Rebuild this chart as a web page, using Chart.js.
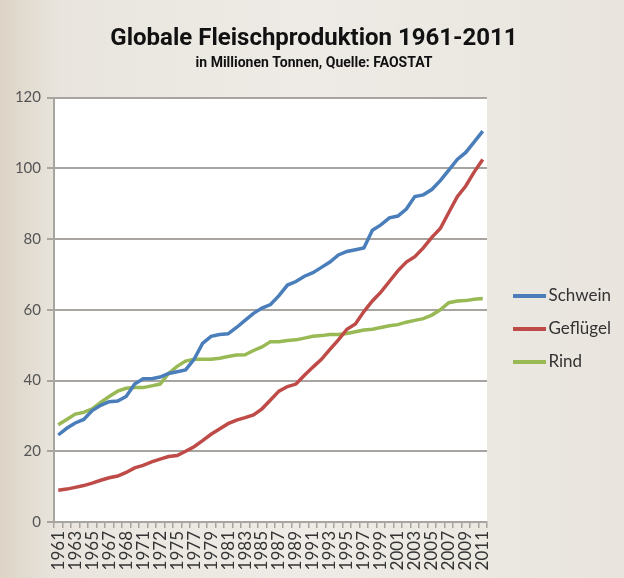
<!DOCTYPE html>
<html>
<head>
<meta charset="utf-8">
<script src="https://cdn.jsdelivr.net/npm/chart.js@4/dist/chart.umd.min.js"></script>
<style>
html,body{margin:0;padding:0;}
body{width:624px;height:578px;overflow:hidden;
background:linear-gradient(90deg,#ddd4c6 0px,#e9e5de 60px,#eeebe6 300px,#e9e5de 624px);}
#wrap{position:relative;width:624px;height:578px;}
</style>
</head>
<body>
<div id="wrap"><canvas id="c" width="624" height="578"></canvas></div>
<script>
const years = [];
for (let y = 1961; y <= 2011; y++) years.push(String(y));
const tickLabels = ["1961","1963","1965","1967","1968","1971","1972","1975","1977","1979","1981","1983","1985","1987","1989","1991","1993","1995","1997","1999","2001","2003","2005","2007","2009","2011"];
const schwein = [24.6,26.5,28,29,31.5,33,34,34.2,35.5,39,40.5,40.5,41,42,42.5,43,46,50.5,52.5,53,53.2,55,57,59,60.5,61.5,64,67,68,69.5,70.5,72,73.5,75.5,76.5,77,77.5,82.5,84,86,86.5,88.5,92,92.5,94,96.5,99.5,102.5,104.5,107.5,110.5];
const gefluegel = [9,9.3,9.8,10.3,11,11.8,12.5,13,14,15.3,16,17,17.8,18.5,18.8,20,21.3,23,24.8,26.3,27.8,28.8,29.5,30.3,32,34.5,37,38.3,39,41.5,43.8,46,48.8,51.5,54.5,56,59.5,62.5,65,68,71,73.5,75,77.5,80.5,83,87.5,92,95,99,102.5];
const rind = [27.5,29,30.5,31,32,33.8,35.5,37,37.8,38,38,38.5,39,42,44,45.5,46,46,46,46.3,46.8,47.2,47.3,48.5,49.5,51,51,51.3,51.5,52,52.5,52.7,53,53,53.3,53.8,54.3,54.5,55,55.5,55.8,56.5,57,57.5,58.5,60,62,62.5,62.6,63,63.2];
const seriesNames = ["Schwein","Geflügel","Rind"];

const colors = ["#4a7ebb","#be4b48","#98b954"];
function lineSwatch(color){
  const cv = document.createElement('canvas');
  cv.width = 33; cv.height = 4;
  const x = cv.getContext('2d');
  x.fillStyle = color; x.fillRect(0, 0, 33, 4);
  return cv;
}
const plotBg = {
  id:'plotBg',
  afterLayout(chart){
    const lg = chart.legend;
    if (lg) { lg.left += 17; lg.right += 17; lg.top += 36; lg.bottom += 36; }
    chart.boxes.forEach(b => {
      if (b.position === 'top' && !b.axis) { b.left += 12; b.right += 12; }
    });
  },
  beforeDraw(chart){
    const a = chart.chartArea, ctx = chart.ctx;
    ctx.save(); ctx.fillStyle = '#ffffff';
    ctx.fillRect(a.left, a.top, a.right - a.left, a.bottom - a.top);
    ctx.restore();
  }
};
const mk = (label, data, c) => ({label, data, borderColor:c, backgroundColor:c, borderWidth:3.5, pointRadius:0, tension:0, fill:false});
new Chart(document.getElementById('c'), {
  type:'line',
  data:{labels:years, datasets:[mk(seriesNames[0],schwein,colors[0]), mk(seriesNames[1],gefluegel,colors[1]), mk(seriesNames[2],rind,colors[2])]},
  options:{
    responsive:false, animation:false,
    layout:{padding:{left:0,right:20,top:8,bottom:0}},
    plugins:{
      title:{display:true, text:'Globale Fleischproduktion 1961-2011', color:'#111',
        font:{family:"Roboto, 'DejaVu Sans', sans-serif", size:24, weight:'bold'},
        padding:{top:17,bottom:1}},
      subtitle:{display:true, text:'in Millionen Tonnen, Quelle: FAOSTAT', color:'#111',
        font:{family:"Roboto, 'DejaVu Sans', sans-serif", size:14, weight:'bold'},
        padding:{top:0,bottom:26}},
      legend:{position:'right', align:'center',
        labels:{usePointStyle:true, pointStyleWidth:20, boxHeight:4, padding:16, color:'#333',
          font:{family:"Lato, 'Open Sans', sans-serif", size:17},
          generateLabels(chart){
            return Chart.defaults.plugins.legend.labels.generateLabels(chart).map((l,i) => Object.assign(l,{lineWidth:0, pointStyle:lineSwatch(colors[i])}));
          }}},
      tooltip:{enabled:false}
    },
    scales:{
      x:{offset:true,
        grid:{display:true, drawOnChartArea:false, drawTicks:true, tickLength:6, color:'#a8a4a0', lineWidth:1.5, offset:true},
        border:{display:true, color:'#a8a4a0', width:2},
        ticks:{autoSkip:false, maxRotation:90, minRotation:90, color:'#333', padding:3,
          font:{family:"Lato, 'Open Sans', sans-serif", size:17},
          callback:(v,i)=> i%2===0 ? tickLabels[i/2] : ''},
        afterFit(s){ s.height = 56; }
      },
      y:{min:0, max:120,
        grid:{color:'#a8a4a0', lineWidth:2, drawTicks:true, tickLength:7},
        border:{display:true, color:'#a8a4a0', width:2},
        ticks:{stepSize:20, color:'#555', padding:6, font:{family:"Lato, 'Open Sans', sans-serif", size:15}},
        afterFit(s){ s.width = 54; }
      }
    }
  },
  plugins:[plotBg]
});
</script>
</body>
</html>
